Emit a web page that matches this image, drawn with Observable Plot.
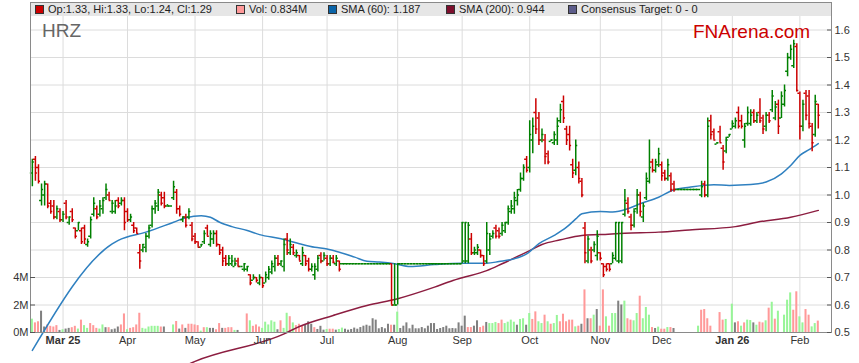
<!DOCTYPE html>
<html><head><meta charset="utf-8">
<script src="https://cdn.jsdelivr.net/npm/d3@7"></script>
<script src="https://cdn.jsdelivr.net/npm/@observablehq/plot@0.6"></script>
<style>
body{margin:0;background:#fff;font-family:Arial,"Liberation Sans",sans-serif;}
#wrap{position:relative;width:859px;height:363px;overflow:hidden;}
#legend{position:absolute;left:31px;top:3px;width:800px;height:13px;background:#e6e6e6;font-size:11px;color:#222;}
.item{position:absolute;top:0;line-height:13px;white-space:nowrap;}
.sw{display:inline-block;width:7px;height:7px;border:1px solid #333;vertical-align:-1px;margin-right:4px;box-sizing:content-box;}
#sym{position:absolute;left:42px;top:21px;font-size:19px;line-height:19px;color:#666;}
#logo{position:absolute;left:693px;top:22px;font-size:19px;line-height:19px;color:#cc0000;}
</style></head>
<body>
<div id="wrap">
  <div id="chart"></div>
  <div id="legend"></div>
  <div id="sym"></div>
  <div id="logo"></div>
</div>
<script>
const symbol = "HRZ";
const brand = "FNArena.com";
const startDate = "2025-02-17";
const legendItems = [
  {label: "Op:1.33, Hi:1.33, Lo:1.24, Cl:1.29", color: "#cc0000"},
  {label: "Vol: 0.834M", color: "#ff9999"},
  {label: "SMA (60): 1.187", color: "#0a64a8"},
  {label: "SMA (200): 0.944", color: "#7d0f2d"},
  {label: "Consensus Target: 0 - 0", color: "#5c5c8a"}
];
const legendLeft = [4, 205, 297, 415, 537];
const tickLabels = ["Mar 25","Apr","May","Jun","Jul","Aug","Sep","Oct","Nov","Dec","Jan 26","Feb"];
const tickBold = [true,false,false,false,false,false,false,false,false,false,true,false];
const priceTicks = [0.5,0.6,0.7,0.8,0.9,1.0,1.1,1.2,1.3,1.4,1.5,1.6];
const volTicksM = [0,2,4];
const volTickLabels = ["0M","2M","4M"];

const open = [
1.08,1.13,1.10,0.98,1.00,1.04,0.97,0.96,0.92,0.94,
0.91,0.97,0.90,0.94,0.88,0.87,0.87,0.88,0.82,0.85,
0.93,0.95,0.93,0.95,0.99,1.00,0.94,0.94,0.98,0.97,
0.98,0.94,0.91,0.89,0.88,0.79,0.80,0.81,0.85,0.89,
0.95,0.96,1.00,0.99,0.96,0.96,0.99,1.01,0.95,0.91,
0.92,0.92,0.89,0.85,0.83,0.81,0.83,0.88,0.82,0.84,
0.86,0.82,0.80,0.77,0.75,0.75,0.74,0.76,0.74,0.73,
0.73,0.71,0.69,0.70,0.68,0.70,0.68,0.70,0.72,0.74,
0.77,0.75,0.74,0.84,0.79,0.81,0.78,0.78,0.75,0.78,
0.76,0.73,0.71,0.73,0.78,0.76,0.77,0.75,0.77,0.75,
0.76,0.75,0.75,0.75,0.75,0.75,0.75,0.75,0.75,0.75,
0.75,0.75,0.75,0.75,0.75,0.75,0.75,0.75,0.60,0.60,
0.75,0.75,0.75,0.75,0.75,0.75,0.75,0.75,0.75,0.75,
0.75,0.75,0.75,0.75,0.75,0.75,0.75,0.75,0.75,0.75,
0.75,0.76,0.76,0.84,0.79,0.79,0.80,0.78,0.76,0.80,
0.85,0.88,0.87,0.86,0.87,0.90,0.94,0.95,0.98,1.02,
1.06,1.13,1.10,1.20,1.30,1.28,1.20,1.20,1.15,1.195,
1.19,1.20,1.27,1.34,1.24,1.22,1.11,1.09,1.10,1.05,
0.88,0.76,0.80,0.80,0.78,0.79,0.75,0.74,0.75,0.75,
0.77,0.76,0.76,0.93,0.97,0.92,0.89,0.95,1.00,0.92,
0.99,1.05,1.12,1.09,1.11,1.11,1.08,1.06,1.07,1.04,
1.02,1.02,1.02,1.02,1.02,1.02,1.02,1.02,1.00,1.04,
1.00,1.27,1.23,1.185,1.23,1.17,1.16,1.21,1.24,1.25,
1.30,1.27,1.20,1.26,1.26,1.30,1.27,1.30,1.28,1.25,
1.29,1.31,1.28,1.33,1.28,1.33,1.45,1.50,1.47,1.54,
1.37,1.25,1.37,1.36,1.25,1.22,1.33];
const high = [
1.13,1.14,1.11,1.04,1.05,1.04,0.98,0.98,0.96,0.95,
0.94,0.98,0.92,0.95,0.88,0.90,0.88,0.89,0.84,0.92,
0.99,0.96,0.98,0.99,1.04,1.01,0.98,0.98,0.99,0.99,
0.99,0.95,0.93,0.90,0.88,0.82,0.82,0.86,0.89,0.96,
0.98,1.02,1.01,1.01,0.965,0.96,1.05,1.02,0.96,0.92,
0.93,0.95,0.90,0.86,0.83,0.82,0.87,0.89,0.87,0.87,
0.87,0.82,0.81,0.78,0.78,0.78,0.77,0.77,0.74,0.75,
0.74,0.71,0.71,0.70,0.71,0.70,0.72,0.74,0.76,0.78,
0.78,0.76,0.84,0.86,0.84,0.82,0.80,0.78,0.81,0.78,
0.77,0.75,0.75,0.78,0.79,0.79,0.78,0.78,0.78,0.78,
0.76,0.75,0.75,0.75,0.75,0.75,0.75,0.75,0.75,0.75,
0.75,0.75,0.75,0.75,0.75,0.75,0.75,0.75,0.75,0.75,
0.75,0.75,0.75,0.75,0.75,0.75,0.75,0.75,0.75,0.75,
0.75,0.75,0.75,0.75,0.75,0.75,0.75,0.75,0.75,0.75,
0.90,0.90,0.90,0.86,0.81,0.82,0.80,0.78,0.90,0.86,
0.87,0.89,0.88,0.90,0.90,0.96,0.98,1.01,1.02,1.08,
1.11,1.14,1.27,1.28,1.35,1.30,1.24,1.22,1.16,1.20,
1.23,1.28,1.33,1.36,1.25,1.25,1.13,1.20,1.12,1.06,
0.90,0.85,0.81,0.83,0.87,0.79,0.75,0.75,0.75,0.79,
0.90,0.90,0.90,1.02,0.99,0.93,0.95,1.02,1.01,0.97,
1.08,1.20,1.13,1.13,1.17,1.12,1.09,1.13,1.08,1.05,
1.02,1.02,1.02,1.02,1.02,1.02,1.02,1.02,1.05,1.05,
1.28,1.29,1.24,1.19,1.25,1.18,1.21,1.22,1.27,1.28,
1.32,1.29,1.26,1.32,1.31,1.31,1.30,1.35,1.29,1.30,
1.30,1.38,1.34,1.345,1.375,1.40,1.515,1.545,1.563,1.55,
1.375,1.345,1.38,1.38,1.26,1.363,1.33];
const low = [
1.03,1.05,1.04,0.96,0.96,0.95,0.93,0.91,0.91,0.90,
0.90,0.91,0.89,0.90,0.84,0.87,0.82,0.82,0.81,0.84,
0.92,0.91,0.92,0.93,0.98,0.98,0.93,0.93,0.95,0.96,
0.87,0.90,0.90,0.86,0.86,0.73,0.79,0.79,0.84,0.88,
0.93,0.94,0.96,0.95,0.96,0.96,0.98,0.93,0.92,0.90,
0.88,0.91,0.83,0.82,0.81,0.81,0.82,0.85,0.81,0.82,
0.81,0.78,0.74,0.74,0.74,0.74,0.74,0.74,0.74,0.72,
0.72,0.67,0.69,0.68,0.67,0.66,0.68,0.69,0.71,0.72,
0.74,0.74,0.72,0.78,0.78,0.78,0.77,0.76,0.74,0.74,
0.72,0.72,0.69,0.72,0.75,0.76,0.74,0.74,0.75,0.74,
0.72,0.75,0.75,0.75,0.75,0.75,0.75,0.75,0.75,0.75,
0.75,0.75,0.75,0.75,0.75,0.75,0.75,0.60,0.60,0.60,
0.75,0.75,0.75,0.75,0.75,0.75,0.75,0.75,0.75,0.75,
0.75,0.75,0.75,0.75,0.75,0.75,0.75,0.75,0.75,0.75,
0.75,0.75,0.75,0.78,0.78,0.78,0.77,0.74,0.75,0.78,
0.84,0.84,0.84,0.85,0.86,0.89,0.93,0.93,0.96,1.01,
1.05,1.08,1.08,1.15,1.22,1.18,1.19,1.11,1.11,1.195,
1.18,1.18,1.26,1.26,1.18,1.16,1.06,1.07,1.04,0.99,
0.75,0.75,0.75,0.79,0.76,0.76,0.70,0.72,0.72,0.75,
0.76,0.75,0.75,0.92,0.93,0.87,0.88,0.93,0.92,0.90,
0.98,1.04,1.08,1.08,1.10,1.05,1.05,1.05,1.01,1.01,
1.02,1.02,1.02,1.02,1.02,1.02,1.02,1.02,0.99,0.99,
0.99,1.20,1.20,1.185,1.19,1.09,1.15,1.21,1.24,1.24,
1.24,1.24,1.17,1.25,1.25,1.26,1.26,1.26,1.22,1.23,
1.26,1.30,1.27,1.22,1.278,1.32,1.43,1.49,1.46,1.375,
1.20,1.23,1.27,1.24,1.157,1.21,1.24];
const close = [
1.12,1.08,1.05,1.02,1.04,0.96,0.94,0.92,0.95,0.91,
0.93,0.92,0.92,0.91,0.85,0.90,0.83,0.84,0.83,0.91,
0.97,0.92,0.96,0.98,1.02,0.98,0.97,0.96,0.96,0.98,
0.90,0.91,0.92,0.87,0.86,0.76,0.82,0.85,0.88,0.95,
0.97,1.01,0.97,0.96,0.96,0.96,1.03,0.95,0.93,0.92,
0.89,0.94,0.84,0.83,0.81,0.82,0.86,0.85,0.86,0.86,
0.82,0.79,0.76,0.75,0.77,0.76,0.75,0.74,0.74,0.75,
0.74,0.68,0.70,0.69,0.70,0.67,0.71,0.73,0.75,0.77,
0.75,0.76,0.82,0.80,0.82,0.79,0.79,0.76,0.79,0.75,
0.73,0.74,0.74,0.77,0.76,0.78,0.75,0.77,0.755,0.77,
0.73,0.75,0.75,0.75,0.75,0.75,0.75,0.75,0.75,0.75,
0.75,0.75,0.75,0.75,0.75,0.75,0.75,0.60,0.60,0.75,
0.75,0.75,0.75,0.75,0.75,0.75,0.75,0.75,0.75,0.75,
0.75,0.75,0.75,0.75,0.75,0.75,0.75,0.75,0.75,0.75,
0.90,0.90,0.89,0.79,0.80,0.81,0.78,0.75,0.86,0.84,
0.86,0.85,0.85,0.89,0.90,0.95,0.96,0.99,1.00,1.06,
1.10,1.09,1.22,1.25,1.24,1.20,1.22,1.14,1.12,1.20,
1.22,1.25,1.31,1.28,1.20,1.18,1.08,1.18,1.06,1.00,
0.79,0.84,0.76,0.82,0.85,0.77,0.71,0.73,0.73,0.78,
0.90,0.90,0.90,0.98,0.94,0.89,0.94,1.00,0.94,0.96,
1.06,1.10,1.09,1.12,1.15,1.07,1.06,1.11,1.02,1.02,
1.02,1.02,1.02,1.02,1.02,1.02,1.02,1.02,1.03,1.00,
1.25,1.22,1.20,1.19,1.19,1.12,1.20,1.22,1.26,1.27,
1.25,1.25,1.25,1.30,1.29,1.27,1.29,1.27,1.24,1.29,
1.27,1.36,1.32,1.25,1.36,1.38,1.50,1.53,1.55,1.38,
1.25,1.33,1.29,1.26,1.19,1.34,1.29];
const volume = [
0.97,0.70,0.78,1.55,0.40,0.55,0.45,0.40,0.50,0.15,
0.20,0.25,0.30,0.35,0.45,0.25,0.90,0.50,0.30,0.65,
0.50,0.30,0.25,0.55,0.35,0.35,0.20,0.25,0.40,0.55,
1.35,0.20,0.30,0.35,0.55,1.40,0.30,0.25,0.40,0.45,
0.45,0.45,0.40,0.40,0,0,0.55,0.80,0.25,0.55,
0.30,0.60,0.60,0.55,0.50,0.10,0.35,0.35,0.30,0.30,
0.20,0.65,0.30,0.30,0.35,0.35,0.15,0.15,0,0,
1.35,0.85,0.45,0.55,0.40,0.30,0.75,0.55,0.85,0.75,
0.20,0.85,0.30,1.40,1.15,0.70,0.50,0.60,0.45,0.53,
0.78,0.60,0.35,0.22,0.45,0.17,0.22,0.24,0.24,0.17,
0.22,0.32,0.24,0.17,0.22,0.32,0.24,0.36,0.46,0.53,
0.46,1.00,0.90,0.27,0.36,0.27,0.60,0.53,0.53,1.48,
0.29,0.46,0.70,0.27,0.53,0.27,0.27,0.36,0.27,0.46,
0.65,0.65,0.22,0.29,0.36,0.46,0.27,0.29,0.27,0.70,
0.46,1.19,0.36,0.36,0.46,0.85,0.36,0.46,0.73,0.65,
0.65,0.73,0.65,0.90,0.65,0.75,0.90,0.75,0.53,0.95,
1.00,0.53,1.38,0.95,1.50,0.78,0.65,1.26,0.78,0.60,
0.65,1.24,0.78,1.33,0.78,0.90,0.90,0.41,0.46,0.60,
3.10,1.00,1.00,1.26,1.67,0.46,3.10,1.14,0.46,1.38,
1.38,2.28,2.00,2.28,1.00,0.90,0.85,1.38,2.64,1.00,
1.82,1.26,0.36,0.29,0.39,0.24,0.24,0.36,0.36,0.29,
0,0,0,0,0,0,0,0.46,1.62,1.67,
1.00,0.46,0,0,1.45,0.90,0.95,0,2.06,0.70,
0.78,0.46,0.70,0.90,0.87,0.70,0.53,0.75,0.70,0.85,
1.77,2.20,0.97,1.55,0,1.26,2.35,2.88,1.62,2.96,
1.14,0.70,1.67,1.26,0.41,0.65,0.83];
// direction of each volume bar: u = up, d = down, f = unchanged
const volDirList = [
"u","d","d","f","f","d","d","d","d","f",
"u","f","f","d","d","u","d","u","u","d",
"d","d","u","u","f","d","f","f","f","d",
"d","u","d","d","d","d","u","u","u","u",
"u","u","d","f","f","f","u","d","f","d",
"f","d","d","d","d","u","d","u","f","f",
"d","d","f","d","d","d","u","f","f","f",
"d","u","d","d","d","u","u","u","u","u",
"f","d","u","u","d","u","d","d","d","f",
"f","f","d","f","f","f","u","d","d","f",
"u","u","f","f","f","f","f","f","f","f",
"f","f","f","f","f","f","f","d","f","u",
"f","f","f","f","f","f","f","f","f","f",
"f","f","f","f","f","f","f","f","f","f",
"f","f","d","d","f","f","d","d","f","u",
"u","u","d","d","u","u","u","u","f","u",
"u","f","u","d","d","u","u","d","u","d",
"u","u","d","d","d","d","d","u","d","f",
"d","f","d","u","f","d","d","u","d","u",
"u","f","f","u","d","d","u","u","d","u",
"u","u","d","f","u","d","d","u","d","f",
"f","f","f","f","f","f","f","u","d","d",
"d","d","f","f","d","d","u","f","u","f",
"d","u","d","u","u","f","u","d","d","u",
"d","u","d","u","f","u","u","u","d","d",
"u","u","d","d","u","u","d"];

const sma60Idx = [0,26,28,37,46,50,55,58,61,65,70,74,81,87,92,96,100,105,109,113,118,123,131,140,148,152,157,161,165,170,174,177,179,185,189,194,198,204,209,214,222,227,234,239,244,247,250,253,256];
const sma60Val = [0.435,0.822,0.835,0.865,0.901,0.917,0.925,0.919,0.901,0.885,0.871,0.856,0.841,0.823,0.810,0.804,0.792,0.774,0.759,0.756,0.750,0.740,0.747,0.752,0.752,0.758,0.768,0.786,0.823,0.853,0.883,0.913,0.932,0.940,0.938,0.950,0.968,0.992,1.019,1.028,1.037,1.035,1.038,1.047,1.077,1.107,1.144,1.165,1.187];
const sma200Idx = [46,53,82,87,98,109,119,131,137,140,148,153,162,166,172,179,185,193,204,214,229,236,247,256];
const sma200Val = [0.36,0.395,0.495,0.522,0.562,0.598,0.623,0.665,0.689,0.699,0.725,0.75,0.798,0.820,0.837,0.853,0.856,0.861,0.865,0.873,0.885,0.901,0.919,0.944];

// ---------- build ----------
function weekdays(start, n) {
  const out = []; const d = new Date(start + "T00:00:00Z");
  while (out.length < n) {
    const wd = d.getUTCDay();
    if (wd !== 0 && wd !== 6) out.push(new Date(d.getTime()));
    d.setUTCDate(d.getUTCDate() + 1);
  }
  return out;
}
const dates = weekdays(startDate, open.length);
const monthIdx = [];
dates.forEach((d, i) => { if (i > 0 && d.getUTCMonth() !== dates[i - 1].getUTCMonth()) monthIdx.push(i); });
const labelOf = new Map(monthIdx.map((m, k) => [m, tickLabels[k]]));
const boldTicks = monthIdx.filter((m, k) => tickBold[k]);
const normTicks = monthIdx.filter((m, k) => !tickBold[k]);

const priceBase = priceTicks[0];
const priceStep = priceTicks[1] - priceTicks[0];
const volToPrice = v => priceBase + v * priceStep / (volTicksM[1] - volTicksM[0]);
const volTickPos = volTicksM.map(volToPrice);
const volLabelOf = new Map(volTickPos.map((p, k) => [p, volTickLabels[k]]));

const rows = open.map((o, i) => ({i, o, h: high[i], l: low[i], c: close[i], v: volume[i], dir: volDirList[i]}));
const GREEN = "#008000", RED = "#cc0000";
const barColor = d => d.c >= d.o ? GREEN : RED;
const volColor = {u: "#98f598", d: "#ff9999", f: "#808080"};
const sma60 = sma60Idx.map((i, k) => ({i, v: sma60Val[k]}));
const sma200 = sma200Idx.map((i, k) => ({i, v: sma200Val[k]}));

const W = 859, H = 363, ML = 30, MR = 28, MT = 2, MB = 31;
const innerW = W - ML - MR;

const chart = Plot.plot({
  width: W, height: H,
  marginLeft: ML, marginRight: MR, marginTop: MT, marginBottom: MB,
  style: {fontFamily: "Arial, 'Liberation Sans', sans-serif", fontSize: "11px", color: "#333", background: "transparent", overflow: "visible"},
  x: {domain: [-0.6, 260.3]},
  y: {domain: [0.5, 1.7]},
  color: {type: "identity"},
  marks: [
    Plot.ruleX(monthIdx, {stroke: "#dcdcdc", strokeWidth: 1}),
    Plot.ruleY(priceTicks.slice(1), {stroke: "#dcdcdc", strokeWidth: 1}),
    Plot.rectY(rows, {x1: d => d.i - 0.33, x2: d => d.i + 0.33, y1: d => priceBase, y2: d => volToPrice(d.v), fill: d => volColor[d.dir]}),
    Plot.line(sma200, {x: "i", y: "v", stroke: "#8c1d40", strokeWidth: 1.5, curve: "monotone-x"}),
    Plot.line(sma60, {x: "i", y: "v", stroke: "#2f80c0", strokeWidth: 1.5, curve: "monotone-x"}),
    Plot.ruleX(rows, {x: "i", y1: "l", y2: "h", stroke: barColor, strokeWidth: 1.5}),
    Plot.ruleY(rows, {y: "o", x1: d => d.i - 0.65, x2: "i", stroke: barColor, strokeWidth: 1.5}),
    Plot.ruleY(rows, {y: "c", x1: "i", x2: d => d.i + 0.65, stroke: barColor, strokeWidth: 1.5}),
    Plot.frame({stroke: "#8a8a8a"}),
    Plot.ruleY(priceTicks, {insetLeft: innerW - 4, stroke: "#555"}),
    Plot.ruleY(volTickPos, {insetRight: innerW - 5, stroke: "#555"}),
    Plot.axisY(priceTicks, {anchor: "right", tickSize: 0, tickPadding: 3, tickFormat: d => d.toFixed(1), label: null, fill: "#333"}),
    Plot.axisY(volTickPos, {anchor: "left", tickSize: 0, tickPadding: 2, tickFormat: d => volLabelOf.get(d), label: null, fill: "#333"}),
    Plot.axisX(normTicks, {anchor: "bottom", tickSize: 0, tickPadding: 4, tickFormat: d => labelOf.get(d), label: null, fill: "#333"}),
    Plot.axisX(boldTicks, {anchor: "bottom", tickSize: 0, tickPadding: 4, tickFormat: d => labelOf.get(d), label: null, fill: "#333", fontWeight: "bold"})
  ]
});
document.getElementById("chart").appendChild(chart);

const leg = document.getElementById("legend");
legendItems.forEach((it, k) => {
  const s = document.createElement("span");
  s.className = "item";
  s.style.left = legendLeft[k] + "px";
  const sw = document.createElement("span");
  sw.className = "sw"; sw.style.background = it.color;
  s.appendChild(sw);
  s.appendChild(document.createTextNode(it.label));
  leg.appendChild(s);
});
document.getElementById("sym").textContent = symbol;
document.getElementById("logo").textContent = brand;
</script>
</body></html>
